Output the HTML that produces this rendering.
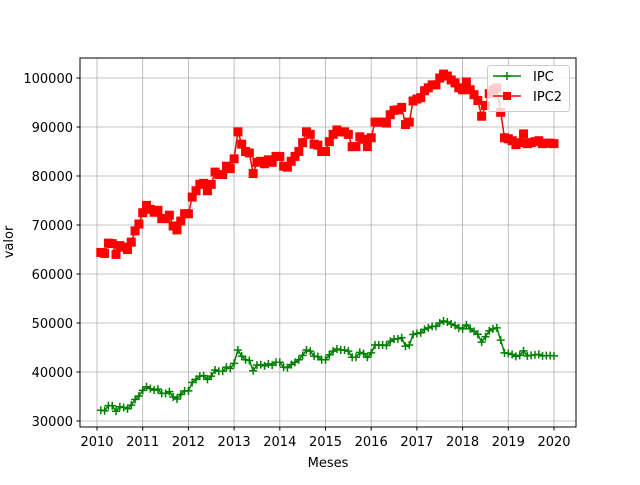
<!DOCTYPE html>
<html><head><meta charset="utf-8"><style>
body{margin:0;background:#fff;}
svg text{font-family:"DejaVu Sans","Liberation Sans",sans-serif;font-size:13px;fill:#000;}
</style></head><body>
<svg width="640" height="480" viewBox="0 0 640 480">
<rect width="640" height="480" fill="#fff"/>
<g id="grid"></g>
<g id="ticks"></g>
<g id="series"></g>
<rect x="80" y="58" width="496" height="369" fill="none" stroke="#000" stroke-width="1"/>
<text x="328" y="467" text-anchor="middle">Meses</text>
<text transform="translate(13,242) rotate(-90)" text-anchor="middle">valor</text>
<g>
<rect x="487.5" y="65.5" width="82" height="46" rx="3" fill="#fff" fill-opacity="0.8" stroke="#ccc"/>
<g>
<line x1="493" y1="76" x2="521" y2="76" stroke="#008000" stroke-width="1.5"/>
<path d="M503 76h8M507 72v8" stroke="#008000" stroke-width="1.5"/>
<text x="533" y="81">IPC</text></g>
<g>
<line x1="493" y1="96" x2="521" y2="96" stroke="#ff0000" stroke-width="1.5"/>
<rect x="503" y="92" width="8" height="8" fill="#ff0000"/>
<text x="533" y="101">IPC2</text></g>
</g>
</svg>
<script>
const years=[2010,2011,2012,2013,2014,2015,2016,2017,2018,2019];
const xTickLabels=["2010","2011","2012","2013","2014","2015","2016","2017","2018","2019","2020"];
const yTickValues=[30000,40000,50000,60000,70000,80000,90000,100000];
const ipc=[32200,32100,33150,33100,32000,32900,32750,32500,33250,34400,35100,36250,
37000,36600,36300,36500,35650,35650,36000,34900,34500,35400,36150,36150,
37850,38500,39150,39250,38500,39150,40400,40150,40150,41000,40750,41750,
44500,43250,42500,42350,40250,41400,41500,41250,41650,41400,42000,42000,
41000,40900,41500,42000,42500,43400,44500,44250,43250,43150,42500,42500,
43500,44250,44700,44500,44500,44250,43000,43000,44000,43750,43000,43900,
45500,45500,45500,45400,46250,46700,46750,47000,45250,45500,47650,47850,
48000,48700,49000,49300,49300,50000,50400,50200,49800,49500,49000,48800,
49600,48800,48300,47700,46100,47200,48400,48800,49000,46500,43900,43800,
43600,43200,43400,44300,43300,43400,43500,43600,43300,43350,43350,43300];
const ipc2=[64400,64200,66300,66200,64000,65800,65500,65000,66500,68800,70200,72500,
74000,73200,72600,73000,71300,71300,72000,69800,69000,70800,72300,72300,
75700,77000,78300,78500,77000,78300,80800,80300,80300,82000,81500,83500,
89000,86500,85000,84700,80500,82800,83000,82500,83300,82800,84000,84000,
82000,81800,83000,84000,85000,86800,89000,88500,86500,86300,85000,85000,
87000,88500,89400,89000,89000,88500,86000,86000,88000,87500,86000,87800,
91000,91000,91000,90800,92500,93400,93500,94000,90500,91000,95300,95700,
96000,97400,98000,98600,98600,100000,100800,100400,99600,99000,98000,97600,
99200,97600,96600,95400,92200,94400,96800,97600,98000,93000,87800,87600,
87200,86400,86800,88600,86600,86800,87000,87200,86600,86700,86700,86600];
const NS="http://www.w3.org/2000/svg";
function xs(t){return 97+(t-2010)*45.7;}
function ys(v){return 421-(v-30000)*343/70000;}
function mk(tag,attrs,parent){const e=document.createElementNS(NS,tag);for(const k in attrs)e.setAttribute(k,attrs[k]);parent.appendChild(e);return e;}
const grid=document.getElementById('grid'),ticks=document.getElementById('ticks'),series=document.getElementById('series');
xTickLabels.forEach((lab,i)=>{const x=xs(2010+i);
 const g=mk('line',{x1:x,y1:58,x2:x,y2:427,stroke:'#b0b0b0','stroke-width':0.8},grid);
 
 
 mk('line',{x1:x,y1:427,x2:x,y2:430.5,stroke:'#000'},ticks);
 const t=mk('text',{x:x,y:446,'text-anchor':'middle'},ticks);t.textContent=lab;
 
 
});
yTickValues.forEach(v=>{const y=ys(v);
 const g=mk('line',{x1:80,y1:y,x2:576,y2:y,stroke:'#b0b0b0','stroke-width':0.8},grid);
 
 
 mk('line',{x1:76.5,y1:y,x2:80,y2:y,stroke:'#000'},ticks);
 const t=mk('text',{x:73,y:y+5,'text-anchor':'end'},ticks);t.textContent=String(v);
 
 
});
function tOf(i){return 2010+(i+1)/12;}
function drawLine(vals,color,name){
 const pts=vals.map((v,i)=>xs(tOf(i)).toFixed(2)+','+ys(v).toFixed(2)).join(' ');
 const p=mk('polyline',{points:pts,fill:'none',stroke:color,'stroke-width':1.5,'stroke-linejoin':'round'},series);
 
 
}
drawLine(ipc,'#008000','ipc');
ipc.forEach((v,i)=>{const x=xs(tOf(i)),y=ys(v);
 const m=mk('path',{d:`M${x-4} ${y}h8M${x} ${y-4}v8`,stroke:'#008000','stroke-width':1.5},series);
 
 
});
drawLine(ipc2,'#ff0000','ipc2');
ipc2.forEach((v,i)=>{const x=xs(tOf(i)),y=ys(v);
 const m=mk('rect',{x:x-4.5,y:y-4.5,width:9,height:9,fill:'#ff0000'},series);
 
 
});
</script>
</body></html>
